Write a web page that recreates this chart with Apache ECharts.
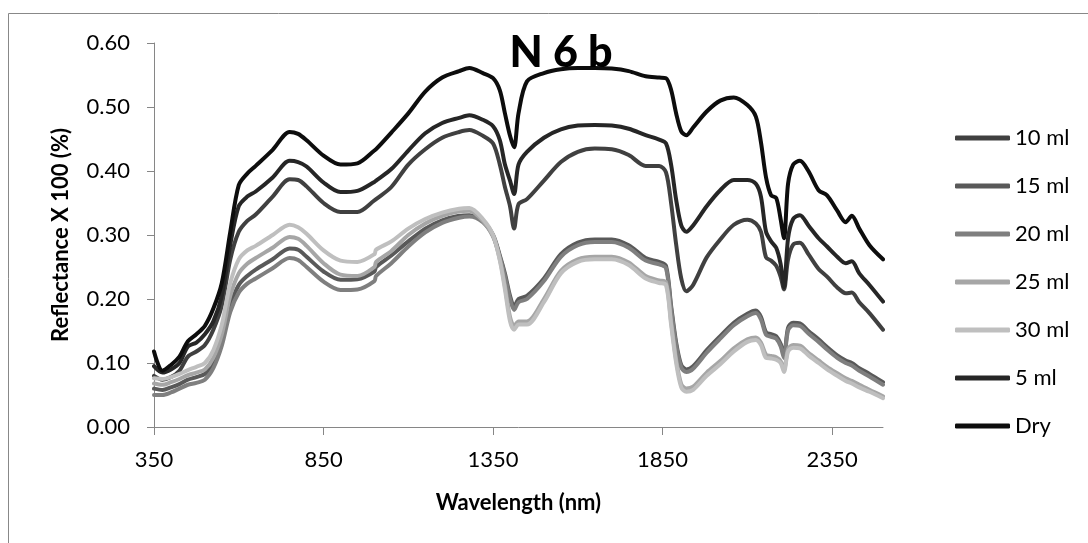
<!DOCTYPE html>
<html>
<head>
<meta charset="utf-8">
<script src="https://cdn.jsdelivr.net/npm/echarts@6/dist/echarts.min.js"></script>
<style>
html,body{margin:0;padding:0;background:#fff;}
#chart{width:1088px;height:543px;}
</style>
</head>
<body>
<div id="chart"></div>
<script>
const wavelengths = [350,375,400,425,450,475,500,525,550,575,600,625,650,700,750,775,800,850,900,950,1000,1005,1050,1100,1150,1200,1250,1280,1320,1350,1370,1385,1400,1412,1425,1450,1500,1550,1600,1650,1700,1750,1800,1840,1860,1875,1890,1905,1920,1940,1980,2020,2060,2100,2125,2140,2155,2170,2185,2198,2208,2220,2235,2255,2280,2310,2335,2365,2390,2408,2430,2460,2500];

const seriesNames = ['10 ml','15 ml','20 ml','25 ml','30 ml','5 ml','Dry'];
const xTickLabels = [350,850,1350,1850,2350];

const ml10 = [0.080,0.074,0.078,0.088,0.110,0.118,0.128,0.152,0.190,0.262,0.305,0.322,0.332,0.360,0.387,0.386,0.376,0.350,0.336,0.336,0.354,0.356,0.375,0.410,0.434,0.452,0.461,0.464,0.455,0.443,0.410,0.375,0.345,0.310,0.348,0.356,0.385,0.414,0.430,0.435,0.434,0.425,0.408,0.408,0.398,0.350,0.285,0.232,0.212,0.222,0.265,0.293,0.316,0.324,0.318,0.305,0.265,0.260,0.252,0.235,0.215,0.262,0.285,0.288,0.270,0.247,0.235,0.218,0.209,0.210,0.195,0.178,0.152];
const ml15 = [0.060,0.058,0.062,0.067,0.074,0.078,0.083,0.100,0.135,0.190,0.222,0.236,0.246,0.262,0.279,0.277,0.266,0.243,0.230,0.231,0.243,0.250,0.268,0.290,0.310,0.323,0.330,0.331,0.322,0.300,0.268,0.240,0.205,0.188,0.200,0.205,0.232,0.270,0.288,0.293,0.293,0.284,0.264,0.258,0.252,0.190,0.132,0.097,0.090,0.095,0.120,0.142,0.163,0.177,0.182,0.172,0.148,0.145,0.142,0.130,0.112,0.155,0.163,0.162,0.150,0.137,0.125,0.112,0.104,0.100,0.092,0.083,0.070];
const ml20 = [0.050,0.050,0.054,0.060,0.066,0.069,0.074,0.092,0.127,0.180,0.210,0.224,0.232,0.248,0.264,0.261,0.250,0.227,0.214,0.215,0.228,0.236,0.256,0.282,0.304,0.319,0.327,0.329,0.320,0.298,0.266,0.236,0.200,0.183,0.195,0.200,0.228,0.266,0.284,0.289,0.289,0.280,0.260,0.254,0.248,0.186,0.128,0.093,0.086,0.091,0.116,0.138,0.159,0.173,0.178,0.168,0.144,0.141,0.138,0.126,0.108,0.151,0.159,0.158,0.146,0.133,0.121,0.108,0.100,0.096,0.088,0.079,0.066];
const ml25 = [0.068,0.066,0.070,0.075,0.081,0.085,0.090,0.108,0.145,0.205,0.240,0.255,0.264,0.280,0.297,0.294,0.283,0.256,0.238,0.236,0.250,0.258,0.275,0.300,0.318,0.330,0.337,0.338,0.322,0.298,0.262,0.220,0.172,0.158,0.165,0.165,0.200,0.244,0.262,0.266,0.266,0.257,0.236,0.229,0.226,0.165,0.105,0.067,0.060,0.063,0.085,0.103,0.123,0.137,0.140,0.132,0.113,0.111,0.109,0.103,0.090,0.122,0.128,0.127,0.116,0.104,0.094,0.084,0.076,0.072,0.066,0.058,0.048];
const ml30 = [0.076,0.075,0.078,0.083,0.089,0.094,0.100,0.120,0.160,0.225,0.262,0.276,0.283,0.300,0.316,0.312,0.302,0.276,0.260,0.258,0.270,0.277,0.290,0.310,0.325,0.335,0.341,0.342,0.325,0.300,0.260,0.215,0.165,0.152,0.160,0.160,0.195,0.240,0.258,0.262,0.262,0.253,0.232,0.225,0.222,0.160,0.100,0.062,0.055,0.058,0.080,0.098,0.118,0.133,0.136,0.128,0.108,0.107,0.105,0.100,0.086,0.118,0.124,0.123,0.112,0.100,0.090,0.080,0.072,0.068,0.062,0.055,0.045];
const ml5 = [0.095,0.085,0.090,0.100,0.126,0.132,0.145,0.165,0.205,0.285,0.345,0.360,0.368,0.390,0.416,0.414,0.407,0.382,0.367,0.369,0.383,0.385,0.403,0.432,0.459,0.475,0.483,0.487,0.480,0.470,0.448,0.410,0.385,0.364,0.410,0.430,0.452,0.465,0.471,0.472,0.471,0.466,0.456,0.449,0.443,0.410,0.355,0.315,0.305,0.315,0.345,0.370,0.386,0.386,0.380,0.360,0.305,0.290,0.280,0.255,0.218,0.295,0.325,0.331,0.315,0.295,0.282,0.266,0.256,0.259,0.240,0.222,0.196];
const dry = [0.118,0.088,0.097,0.110,0.134,0.145,0.158,0.185,0.225,0.305,0.378,0.396,0.408,0.433,0.461,0.458,0.448,0.424,0.410,0.412,0.432,0.434,0.460,0.490,0.524,0.546,0.556,0.561,0.553,0.545,0.526,0.490,0.455,0.437,0.490,0.540,0.553,0.559,0.561,0.561,0.560,0.556,0.548,0.546,0.545,0.527,0.490,0.462,0.456,0.468,0.493,0.510,0.515,0.503,0.485,0.445,0.390,0.362,0.358,0.325,0.295,0.380,0.410,0.416,0.400,0.370,0.362,0.338,0.320,0.330,0.310,0.284,0.262];

const seriesValues = [ml10, ml15, ml20, ml25, ml30, ml5, dry];
const seriesColors = ['#404040','#595959','#7f7f7f','#a6a6a6','#bfbfbf','#262626','#0d0d0d'];

const FONT = 'Lato';
const chart = echarts.init(document.getElementById('chart'), null, {renderer:'canvas'});
const option = {
  animation: false,
  backgroundColor: '#ffffff',
  title: {
    text: 'N 6 b',
    left: 556,
    top: 27,
    textAlign: 'center',
    textStyle: {fontFamily: FONT, fontWeight: 900, fontSize: 43, color: '#000'}
  },
  graphic: [{
    type: 'rect',
    shape: {x: 8.5, y: 13.5, width: 1200, height: 700},
    style: {fill: 'none', stroke: '#888888', lineWidth: 1},
    silent: true, z: -1
  }],
  legend: {
    orient: 'vertical',
    left: 950,
    top: 122,
    itemWidth: 55,
    itemHeight: 5,
    itemGap: 26,
    icon: 'roundRect',
    data: seriesNames,
    textStyle: {fontFamily: FONT, fontSize: 22, color: '#000'}
  },
  grid: {left: 154, right: 205, top: 43, bottom: 116},
  xAxis: {
    type: 'value',
    min: 350, max: 2500, interval: 500,
    name: 'Wavelength (nm)',
    nameLocation: 'middle',
    nameGap: 65,
    nameTextStyle: {fontFamily: FONT, fontWeight: 'bold', fontSize: 22, color: '#000'},
    axisLine: {show: true, lineStyle: {color: '#868686', width: 1}},
    axisTick: {show: true, length: 8, customValues: xTickLabels, lineStyle: {color: '#868686'}},
    axisLabel: {customValues: xTickLabels, margin: 22, fontFamily: FONT, fontSize: 22, color: '#000', formatter: v => String(v)},
    splitLine: {show: false}
  },
  yAxis: {
    type: 'value',
    min: 0, max: 0.6, interval: 0.1,
    name: 'Reflectance X 100 (%)',
    nameLocation: 'middle',
    nameGap: 82,
    nameTextStyle: {fontFamily: FONT, fontWeight: 'bold', fontSize: 22, color: '#000'},
    axisLine: {show: true, lineStyle: {color: '#868686', width: 1}},
    axisTick: {show: true, length: 7, lineStyle: {color: '#868686'}},
    axisLabel: {margin: 24, fontFamily: FONT, fontSize: 22, color: '#000', formatter: v => v.toFixed(2)},
    splitLine: {show: false}
  },
  series: seriesNames.map((name, i) => ({
    name: name,
    type: 'line',
    showSymbol: false,
    smooth: 0.3,
    color: seriesColors[i],
    lineStyle: {width: 4, color: seriesColors[i], cap: 'round', join: 'round'},
    data: wavelengths.map((w, j) => [w, seriesValues[i][j]])
  }))
};
chart.setOption(option);
</script>
</body>
</html>
